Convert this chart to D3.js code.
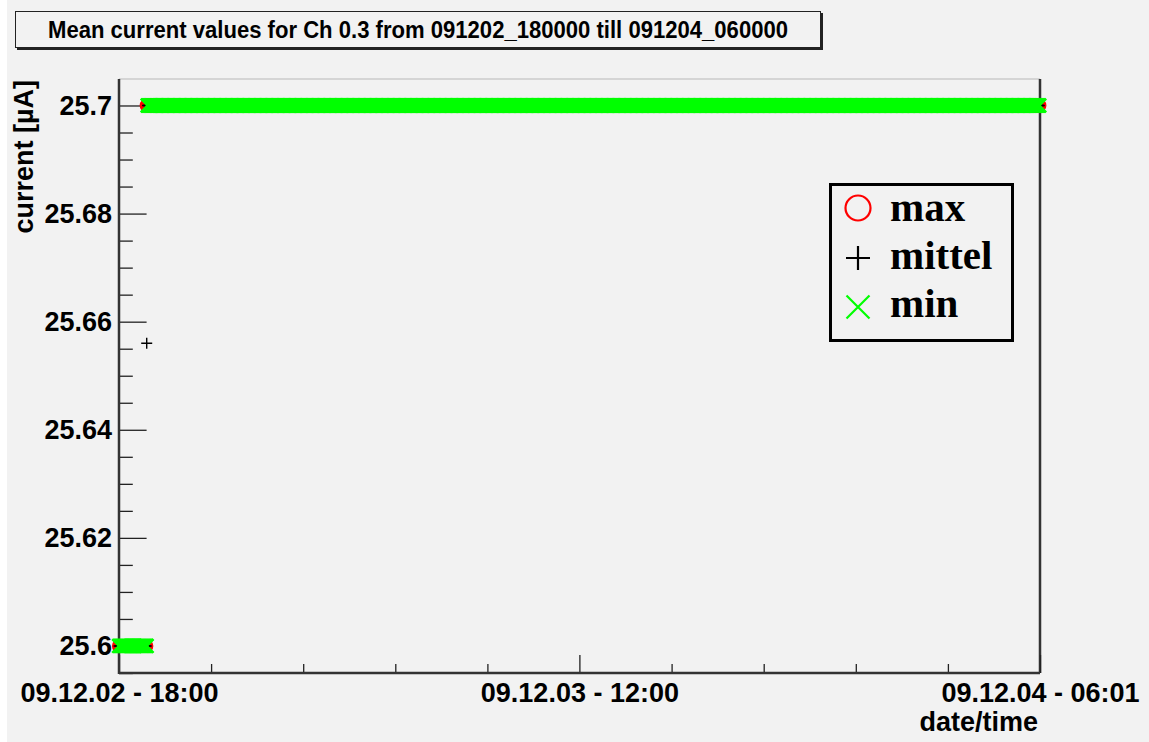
<!DOCTYPE html>
<html>
<head>
<meta charset="utf-8">
<script src="https://cdn.jsdelivr.net/npm/d3@7"></script>
<style>
  html, body { margin: 0; padding: 0; background: #ffffff; }
  svg { display: block; }
  .sans { font-family: "Liberation Sans", Arial, sans-serif; font-weight: bold; }
  .serif { font-family: "Liberation Serif", "Times New Roman", serif; font-weight: bold; }
</style>
</head>
<body>
<svg id="chart" width="1149" height="742"></svg>
<script>
// ---- Data: channel 0.3 current readings, logged every 2 minutes ----
const SAMPLE_MINUTES = 2;
// constant-value stretches of the log
const runFrom = ["2009-12-02T18:00:00", "2009-12-02T19:07:00"];
const runTo   = ["2009-12-02T19:04:00", "2009-12-04T06:00:00"];
const runMin  = [25.6, 25.7];
const runMean = [25.6, 25.7];
const runMax  = [25.6, 25.7];
// the single reading where the current stepped up
const stepTime = ["2009-12-02T19:05:00"];
const stepMin  = [25.6];
const stepMean = [25.656];
const stepMax  = [25.7];

const timeStart = "2009-12-02T18:00:00";
const timeEnd   = "2009-12-04T06:00:30";
const xMajorTicks = ["2009-12-02T18:00:00", "2009-12-03T12:00:00", "2009-12-04T06:00:30"];
const xTickLabels = ["09.12.02 - 18:00", "09.12.03 - 12:00", "09.12.04 - 06:01"];
const yMajorTicks = [25.6, 25.62, 25.64, 25.66, 25.68, 25.7];
const yTickLabels = ["25.6", "25.62", "25.64", "25.66", "25.68", "25.7"];
const yMin = 25.595, yMax = 25.7049;

const titleText = "Mean current values for Ch 0.3 from 091202_180000 till 091204_060000";
const legendNames = ["max", "mittel", "min"];

// ---- Build the reading table ----
const parse = s => new Date(s);
const readings = [];
runFrom.forEach((f, i) => {
  const end = parse(runTo[i]).getTime();
  for (let t = parse(f).getTime(); t <= end; t += SAMPLE_MINUTES * 60000) {
    readings.push({ t: new Date(t), min: runMin[i], mean: runMean[i], max: runMax[i] });
  }
});
stepTime.forEach((s, i) => {
  readings.push({ t: parse(s), min: stepMin[i], mean: stepMean[i], max: stepMax[i] });
});
readings.sort((a, b) => a.t - b.t);

// ---- Layout ----
const svg = d3.select("#chart");
const L = 119, R = 1040, T = 79, B = 673;

svg.append("rect").attr("x", 7).attr("y", 0).attr("width", 1142).attr("height", 742).attr("fill", "#f2f2f2");

const x = d3.scaleTime().domain([parse(timeStart), parse(timeEnd)]).range([L, R]);
const y = d3.scaleLinear().domain([yMin, yMax]).range([B, T]);

// frame
svg.append("line").attr("x1", L).attr("x2", R).attr("y1", T).attr("y2", T)
  .attr("stroke", "#b8b8b8").attr("stroke-width", 1);
svg.append("line").attr("x1", R).attr("x2", R).attr("y1", T).attr("y2", B)
  .attr("stroke", "#333").attr("stroke-width", 2.5);

// y axis (ticks drawn inward)
const yMinorTicks = d3.range(0, 23).map(i => +(25.595 + i * 0.005).toFixed(3))
  .filter(v => v >= yMin && v <= yMax && !yMajorTicks.some(m => Math.abs(m - v) < 1e-6));
const gyMinor = svg.append("g").attr("transform", `translate(${L},0)`)
  .call(d3.axisLeft(y).tickValues(yMinorTicks).tickSize(-13.8).tickFormat(""));
const gy = svg.append("g").attr("transform", `translate(${L},0)`)
  .call(d3.axisLeft(y).tickValues(yMajorTicks).tickSize(-27.6).tickPadding(7)
    .tickFormat((d, i) => yTickLabels[i]));
[gy, gyMinor].forEach(g => {
  g.select(".domain").remove();
  g.selectAll(".tick line").attr("stroke", "#222").attr("stroke-width", 1.3);
});
gy.selectAll(".tick text").attr("class", "sans").attr("font-size", 27).attr("fill", "#000");

// x axis (ticks drawn inward)
const xMinorTicks = d3.range(1, 10).filter(i => i !== 5)
  .map(i => new Date(parse(timeStart).getTime() + i * (parse(timeEnd) - parse(timeStart)) / 10));
const gxMinor = svg.append("g").attr("transform", `translate(0,${B})`)
  .call(d3.axisBottom(x).tickValues(xMinorTicks).tickSize(-9).tickFormat(""));
const gx = svg.append("g").attr("transform", `translate(0,${B})`)
  .call(d3.axisBottom(x).tickValues(xMajorTicks.map(parse)).tickSize(-18).tickPadding(10)
    .tickFormat((d, i) => xTickLabels[i]));
[gx, gxMinor].forEach(g => {
  g.select(".domain").remove();
  g.selectAll(".tick line").attr("stroke", "#222").attr("stroke-width", 1.3);
});
gx.selectAll(".tick text").attr("class", "sans").attr("font-size", 27).attr("fill", "#000");

// axis lines
svg.append("line").attr("x1", L).attr("x2", L).attr("y1", T).attr("y2", B + 1)
  .attr("stroke", "#333").attr("stroke-width", 2.5);
svg.append("line").attr("x1", L).attr("x2", R).attr("y1", B).attr("y2", B)
  .attr("stroke", "#333").attr("stroke-width", 2.5);

// axis titles
svg.append("text").attr("class", "sans").attr("font-size", 27)
  .attr("text-anchor", "end").attr("transform", `translate(33,${T + 1}) rotate(-90)`)
  .text("current [\u00b5A]");
svg.append("text").attr("class", "sans").attr("font-size", 27)
  .attr("text-anchor", "end").attr("x", 1038).attr("y", 731).text("date/time");

// ---- Markers ----
const crossPath = s => `M${-s},0H${s}M0,${-s}V${s}`;
const xPath = s => `M${-s},${-s}L${s},${s}M${-s},${s}L${s},${-s}`;

const plot = svg.append("g");
plot.selectAll("circle.max").data(readings).join("circle").attr("class", "max")
  .attr("cx", d => x(d.t)).attr("cy", d => y(d.max)).attr("r", 6.3)
  .attr("fill", "none").attr("stroke", "#ff0000").attr("stroke-width", 1.6);
plot.selectAll("path.mean").data(readings).join("path").attr("class", "mean")
  .attr("transform", d => `translate(${x(d.t)},${y(d.mean)})`).attr("d", crossPath(5.5))
  .attr("fill", "none").attr("stroke", "#000").attr("stroke-width", 1.4);
plot.selectAll("path.min").data(readings).join("path").attr("class", "min")
  .attr("transform", d => `translate(${x(d.t)},${y(d.min)})`).attr("d", xPath(6.8))
  .attr("fill", "none").attr("stroke", "#00ff00").attr("stroke-width", 2.4);

// ---- Title box ----
svg.append("rect").attr("x", 17).attr("y", 13).attr("width", 806).attr("height", 37).attr("fill", "#222");
svg.append("rect").attr("x", 15.5).attr("y", 11.5).attr("width", 805).attr("height", 36)
  .attr("fill", "#f2f2f2").attr("stroke", "#222").attr("stroke-width", 1);
svg.append("text").attr("class", "sans").attr("font-size", 23)
  .attr("x", 48).attr("y", 38).attr("textLength", 740).attr("lengthAdjust", "spacingAndGlyphs")
  .text(titleText);

// ---- Legend ----
const lg = svg.append("g");
lg.append("rect").attr("x", 830.5).attr("y", 184.5).attr("width", 182).attr("height", 156)
  .attr("fill", "#f2f2f2").attr("stroke", "#000").attr("stroke-width", 3);
const rowY = [208, 258, 307];
const baseY = [221, 269, 317];
lg.append("circle").attr("cx", 858).attr("cy", rowY[0]).attr("r", 12.5)
  .attr("fill", "none").attr("stroke", "#ff0000").attr("stroke-width", 2.2);
lg.append("path").attr("transform", `translate(858,${rowY[1]})`).attr("d", crossPath(12))
  .attr("stroke", "#000").attr("stroke-width", 2.2);
lg.append("path").attr("transform", `translate(858,${rowY[2]})`).attr("d", xPath(11.5))
  .attr("stroke", "#00ff00").attr("stroke-width", 2.2);
legendNames.forEach((n, i) => {
  lg.append("text").attr("class", "serif").attr("font-size", 41)
    .attr("x", 890).attr("y", baseY[i]).text(n);
});
</script>
</body>
</html>
